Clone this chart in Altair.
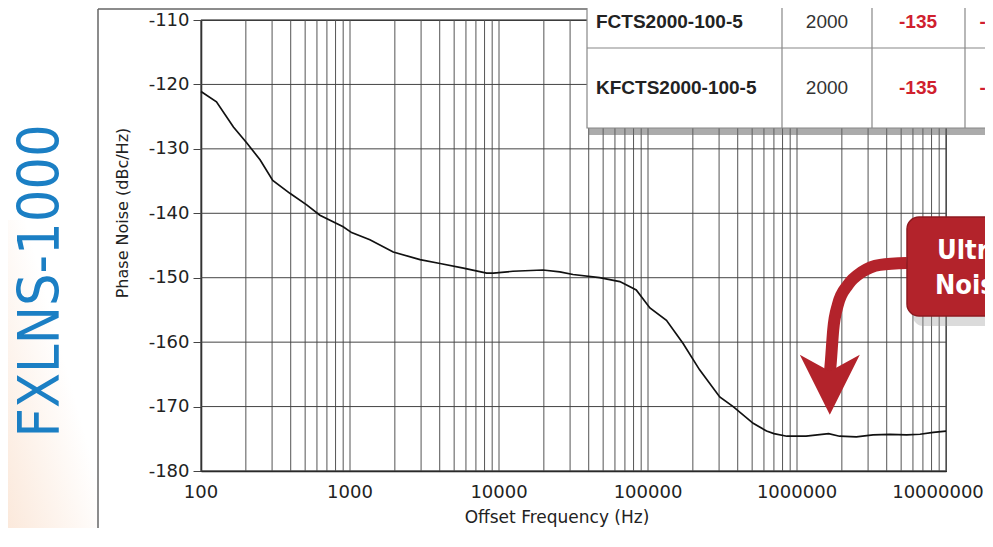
import altair as alt
import pandas as pd

# ---- data ----
freq = [100, 127, 165, 203, 249, 303, 395, 512, 628, 900, 1025, 1360, 1950, 2950,
        4020, 5770, 8270, 9170, 12400, 19700, 25600, 31400, 47300, 64700, 83400,
        103000, 133000, 172000, 222000, 303000, 373000, 508000, 625000, 700000,
        855000, 1050000, 1150000, 1630000, 1930000, 2500000, 3240000, 4200000,
        5440000, 6690000, 8220000, 10000000]
phase_noise = [-121.1, -122.7, -126.6, -129.1, -131.7, -134.9, -136.9, -138.7, -140.3,
               -142.1, -143.0, -144.1, -146.0, -147.2, -147.8, -148.5, -149.3, -149.3,
               -149.0, -148.8, -149.1, -149.5, -150.0, -150.6, -151.9, -154.7, -156.6,
               -160.2, -164.3, -168.5, -170.0, -172.6, -173.8, -174.2, -174.6, -174.6,
               -174.6, -174.2, -174.6, -174.7, -174.4, -174.3, -174.4, -174.3, -174.0,
               -173.8]

x_decades = [100, 1000, 10000, 100000, 1000000, 10000000]
x_labels = ["100", "1000", "10000", "100000", "1000000", "10000000"]
x_grid = [m * d for d in [100, 1000, 10000, 100000, 1000000] for m in range(1, 10)] + [10000000]
y_ticks = [-180, -170, -160, -150, -140, -130, -120, -110]

# callout arrow (in data coordinates)
arrow_f = [5470000, 3610000, 2730000, 2200000, 1880000, 1750000, 1690000, 1660000]
arrow_db = [-147.7, -148.0, -149.1, -151.1, -154.2, -158.1, -162.8, -165.0]
arrow_head_f = [1660000]
arrow_head_db = [-166.6]

# table overlay
table_text = ["FCTS2000-100-5", "2000", "-135", "-1",
              "KFCTS2000-100-5", "2000", "-135", "-1"]

W, H = 745, 451
PAD = {"left": 193, "top": 12, "right": 39, "bottom": 57}

xs = alt.Scale(type="log", domain=[100, 10000000], nice=False)
ys = alt.Scale(domain=[-180, -110], nice=False)

one = pd.DataFrame({"a": [0]})
LBL = "DejaVu Sans"
NARROW = "Liberation Sans Narrow, DejaVu Sans Condensed, sans-serif"

# background tint bottom-left
bg = alt.Chart(one).mark_rect(
    color=alt.Gradient(gradient="linear", x1=0, y1=1, x2=1, y2=0,
                       stops=[alt.GradientStop(color="#fbe8da", offset=0),
                              alt.GradientStop(color="#ffffff", offset=0.6)])
).encode(x=alt.value(-193), x2=alt.value(-104), y=alt.value(200), y2=alt.value(520))

frame = alt.Chart(one).mark_rule(color="#666", strokeWidth=1.5).encode(
    x=alt.value(-103), x2=alt.value(-103), y=alt.value(-11), y2=alt.value(520))
frame_top = alt.Chart(one).mark_rule(color="#666", strokeWidth=1.5).encode(
    x=alt.value(-103), x2=alt.value(800), y=alt.value(-11), y2=alt.value(-11))

vgrid = alt.Chart(pd.DataFrame({"g": x_grid})).mark_rule(color="#555", strokeWidth=1).encode(
    x=alt.X("g:Q", scale=xs))
hgrid = alt.Chart(pd.DataFrame({"g": y_ticks})).mark_rule(color="#444", strokeWidth=1).encode(
    y=alt.Y("g:Q", scale=ys))

curve = alt.Chart(pd.DataFrame({"f": freq, "pn": phase_noise})).mark_line(
    color="#111", strokeWidth=1.7).encode(
    x=alt.X("f:Q", scale=xs, axis=alt.Axis(
        values=x_decades, labels=False, grid=False, ticks=False,
        domainColor="#111", domainWidth=1.5, title=None)),
    y=alt.Y("pn:Q", scale=ys, axis=alt.Axis(
        values=y_ticks, labelExpr="datum.value + ''", grid=False, tickSize=8,
        tickColor="#444", labelPadding=4, labelFontSize=18, labelFont=LBL,
        labelColor="#222", domainColor="#111", domainWidth=1.5, title=None)),
    order="f:Q")

# x tick labels (last one nudged left so it stays inside the page)
xl = pd.DataFrame({"f": x_decades, "lab": x_labels})
xlab_main = alt.Chart(xl.iloc[:-1]).mark_text(
    align="center", baseline="middle", font=LBL, fontSize=18, color="#222").encode(
    x=alt.X("f:Q", scale=xs), y=alt.value(H + 22), text="lab:N")
xlab_last = alt.Chart(xl.iloc[-1:]).mark_text(
    align="center", baseline="middle", font=LBL, fontSize=18, color="#222", dx=-8).encode(
    x=alt.X("f:Q", scale=xs), y=alt.value(H + 22), text="lab:N")

# callout box
callout_shadow = alt.Chart(one).mark_rect(color="#999", opacity=0.35, cornerRadius=10).encode(
    x=alt.value(712), x2=alt.value(820), y=alt.value(204), y2=alt.value(306))
callout = alt.Chart(one).mark_rect(color="#b3232b", stroke="#8e1a20", strokeWidth=1.5,
                                   cornerRadius=12).encode(
    x=alt.value(706), x2=alt.value(820), y=alt.value(197), y2=alt.value(296))
callout_t1 = alt.Chart(one).mark_text(text="Ultra Low", align="left", baseline="middle",
                                      font=NARROW, fontSize=27, fontWeight="bold",
                                      color="white").encode(x=alt.value(736), y=alt.value(231))
callout_t2 = alt.Chart(one).mark_text(text="Noise", align="left", baseline="middle",
                                      font=NARROW, fontSize=27, fontWeight="bold",
                                      color="white").encode(x=alt.value(734), y=alt.value(266))

arrow = alt.Chart(pd.DataFrame({"f": arrow_f, "pn": arrow_db, "o": list(range(len(arrow_f)))})).mark_line(
    color="#b3232b", strokeWidth=12, strokeCap="butt", interpolate="monotone").encode(
    x=alt.X("f:Q", scale=xs), y=alt.Y("pn:Q", scale=ys), order="o:Q")
arrow_head = alt.Chart(pd.DataFrame({"f": arrow_head_f, "pn": arrow_head_db})).mark_point(
    shape="M -1 -1 L 0 1 L 1 -1 L 0 -0.45 Z", size=3600, filled=True,
    color="#b3232b", opacity=1).encode(
    x=alt.X("f:Q", scale=xs), y=alt.Y("pn:Q", scale=ys))

# table overlay
t_shadow = alt.Chart(one).mark_rect(color="#666", opacity=0.55).encode(
    x=alt.value(388), x2=alt.value(800), y=alt.value(108), y2=alt.value(115))
t_box = alt.Chart(one).mark_rect(fill="white", stroke="#888", strokeWidth=1.2).encode(
    x=alt.value(386), x2=alt.value(800), y=alt.value(-20), y2=alt.value(108))
t_row = alt.Chart(one).mark_rule(color="#888", strokeWidth=1.2).encode(
    x=alt.value(386), x2=alt.value(800), y=alt.value(28), y2=alt.value(28))
t_cols = alt.Chart(pd.DataFrame({"cx": [581, 671, 764]})).mark_rule(color="#888", strokeWidth=1.2).encode(
    x=alt.X("cx:Q", scale=None), y=alt.value(-20), y2=alt.value(108))
cells = pd.DataFrame({
    "txt": table_text,
    "px": [395, 626, 717, 787, 395, 626, 717, 787],
    "py": [2, 2, 2, 2, 68, 68, 68, 68],
    "kind": ["name", "freq", "val", "val", "name", "freq", "val", "val"],
})
t_names = alt.Chart(cells[cells.kind == "name"]).mark_text(
    align="left", baseline="middle", font="Liberation Sans", fontSize=19,
    fontWeight="bold", color="#222").encode(
    x=alt.X("px:Q", scale=None), y=alt.Y("py:Q", scale=None), text="txt:N")
t_freq = alt.Chart(cells[cells.kind == "freq"]).mark_text(
    align="center", baseline="middle", font="Liberation Sans", fontSize=19,
    color="#333").encode(
    x=alt.X("px:Q", scale=None), y=alt.Y("py:Q", scale=None), text="txt:N")
t_vals = alt.Chart(cells[cells.kind == "val"]).mark_text(
    align="center", baseline="middle", font="Liberation Sans", fontSize=19,
    fontWeight="bold", color="#d0202e").encode(
    x=alt.X("px:Q", scale=None), y=alt.Y("py:Q", scale=None), text="txt:N")

# titles
xtitle = alt.Chart(one).mark_text(text="Offset Frequency (Hz)", align="center", baseline="middle",
                                  font=LBL, fontSize=17, color="#222").encode(
    x=alt.value(356), y=alt.value(498))
ytitle = alt.Chart(one).mark_text(text="Phase Noise (dBc/Hz)", align="center", baseline="middle",
                                  font=LBL, fontSize=16, color="#222", angle=270).encode(
    x=alt.value(-78), y=alt.value(193))
big = alt.Chart(one).mark_text(text="FXLNS-1000", align="center", baseline="middle",
                               font=NARROW, fontSize=57, color="#1b7fc4", angle=270).encode(
    x=alt.value(-159), y=alt.value(261))

chart = alt.layer(
    bg, frame, frame_top, vgrid, hgrid, curve, xlab_main, xlab_last,
    callout_shadow, arrow, arrow_head, callout, callout_t1, callout_t2,
    t_shadow, t_box, t_row, t_cols, t_names, t_freq, t_vals,
    xtitle, ytitle, big
).properties(
    width=W, height=H, padding=PAD, autosize=alt.AutoSizeParams(type="none"),
    background="white"
).configure_view(stroke="#333", strokeWidth=1.2)

chart.save("out.html", embed_options={"renderer": "svg", "actions": False})
